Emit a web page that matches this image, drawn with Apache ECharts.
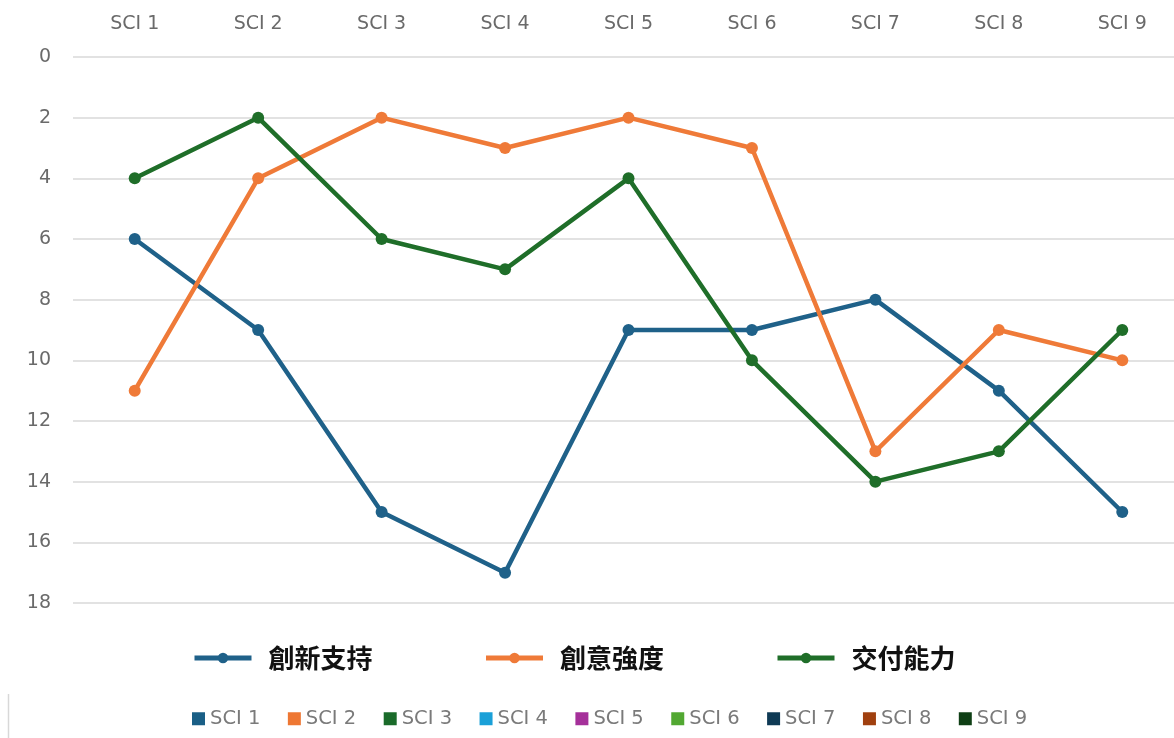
<!DOCTYPE html>
<html>
<head>
<meta charset="utf-8">
<script src="https://cdn.jsdelivr.net/npm/echarts@6/dist/echarts.min.js"></script>
<style>
  html, body { margin: 0; padding: 0; background: #fff; }
  #main { width: 1174px; height: 738px; }
</style>
</head>
<body>
<div id="main"></div>
<script>
var categories = ['SCI 1', 'SCI 2', 'SCI 3', 'SCI 4', 'SCI 5', 'SCI 6', 'SCI 7', 'SCI 8', 'SCI 9'];
var innovationSupport = [6, 9, 15, 17, 9, 9, 8, 11, 15];
var creativeIntensity = [11, 4, 2, 3, 2, 3, 13, 9, 10];
var deliveryCapability = [4, 2, 6, 7, 4, 10, 14, 13, 9];
var lineNames = ['創新支持', '創意強度', '交付能力'];
var lineColors = ['#1f6189', '#ef7a38', '#1f6e29'];
var sciColors = ['#1a5f86', '#ee7733', '#1a6b2a', '#1aa0d8', '#a5309a', '#52a832', '#0f3a55', '#a0400f', '#0f3f15'];

var lineData = [innovationSupport, creativeIntensity, deliveryCapability];

var series = lineData.map(function (d, i) {
    return {
        name: lineNames[i],
        type: 'line',
        data: d,
        symbol: 'circle',
        symbolSize: 12,
        lineStyle: { width: 4.5, color: lineColors[i] },
        itemStyle: { color: lineColors[i] }
    };
});

// empty series only so that the second legend row can list the SCI colours
categories.forEach(function (c, i) {
    series.push({
        name: c,
        type: 'line',
        data: [],
        itemStyle: { color: sciColors[i] }
    });
});

var myChart = echarts.init(document.getElementById('main'));
myChart.setOption({
    animation: false,
    textStyle: { fontFamily: '"DejaVu Sans", "Noto Sans CJK TC", sans-serif' },
    grid: {
        left: 73,
        width: 1111,
        top: 57,
        height: 546,
        outerBoundsMode: 'none',
        containLabel: false
    },
    xAxis: {
        type: 'category',
        position: 'top',
        data: categories,
        boundaryGap: true,
        axisLine: { show: false },
        axisTick: { show: false },
        axisLabel: { color: '#6a6a6a', fontSize: 19, margin: 23 }
    },
    yAxis: {
        type: 'value',
        inverse: true,
        min: 0,
        max: 18,
        interval: 2,
        axisLine: { show: false },
        axisTick: { show: false },
        axisLabel: { color: '#6a6a6a', fontSize: 19, margin: 22 },
        splitLine: { lineStyle: { color: '#d9d9d9', width: 1.5 } }
    },
    legend: [{
        data: lineNames,
        top: 640,
        left: 187,
        itemWidth: 57,
        itemHeight: 13,
        itemGap: 111,
        lineStyle: { width: 5 },
        textStyle: {
            fontSize: 26,
            fontWeight: 'bold',
            color: '#111',
            fontFamily: '"Noto Sans CJK TC", sans-serif',
            padding: [0, 0, 0, 12]
        }
    }, {
        data: categories,
        top: 704,
        left: 187,
        icon: 'rect',
        itemWidth: 13,
        itemHeight: 13,
        itemGap: 27.5,
        textStyle: { fontSize: 19.5, color: '#7a7a7a' }
    }],
    graphic: [{
        type: 'line',
        shape: { x1: 8.5, y1: 694, x2: 8.5, y2: 738 },
        style: { stroke: '#d8d8d8', lineWidth: 1.5 }
    }],
    series: series
});
</script>
</body>
</html>
